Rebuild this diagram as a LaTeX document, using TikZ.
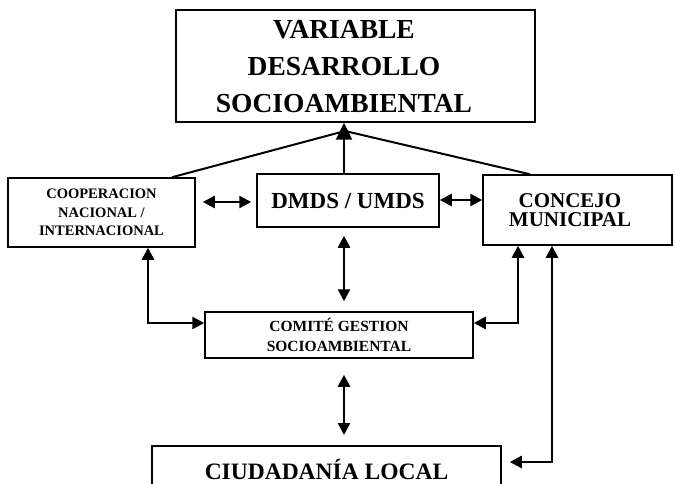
\documentclass[tikz,border=0pt]{standalone}
\usepackage{fontspec}
\setmainfont{Liberation Serif}
\usetikzlibrary{arrows.meta}

\newcommand\boldsize[2]{\fontsize{#1}{#2}\selectfont\bfseries}

\tikzset{
  box/.style={draw, line width=1.5pt, inner sep=0pt, align=center},
  label text/.style={inner sep=0pt, align=center},
  link/.style={line width=2.5pt},
  dbl/.style={link, {Triangle[length=12pt,width=12pt]}-{Triangle[length=12pt,width=12pt]}},
  uparrow/.style={line width=2.5pt, -{Triangle[length=17pt,width=16pt]}},
  slant/.style={line width=2pt},
}

\begin{document}
\begin{tikzpicture}[x=1pt, y=-1pt]
  \useasboundingbox (0,0) rectangle (675,484);
  \clip (0,0) rectangle (675,484);

  % boxes
  \node[box, minimum width=359pt, minimum height=112pt] (top) at (355.5,66) {};
  \node[label text, font=\boldsize{27.5}{37}] (toptext) at (344,67)
    {VARIABLE\\DESARROLLO\\SOCIOAMBIENTAL};
  \node[box, minimum width=187pt, minimum height=69pt, font=\boldsize{14.5}{18.5}]
    (coop) at (101.5,212.5) {COOPERACION\\NACIONAL /\\INTERNACIONAL};
  \node[box, minimum width=182pt, minimum height=53pt, font=\boldsize{23}{26}]
    (dmds) at (348,200.5) {DMDS / UMDS};
  \node[box, minimum width=189pt, minimum height=70pt] (concejo) at (577.5,210) {};
  \node[label text, font=\boldsize{21}{19}] (concejotext) at (570,210)
    {CONCEJO\\MUNICIPAL};
  \node[box, minimum width=268pt, minimum height=46pt, font=\boldsize{15.5}{20}]
    (comite) at (339,335) {COMITÉ GESTION\\SOCIOAMBIENTAL};
  \node[box, anchor=north, minimum width=349pt, inner ysep=18pt,
        text height=16pt, text depth=22pt, font=\boldsize{23.5}{26}]
    (ciud) at (326.5,445) {CIUDADANÍA LOCAL};

  % reference points for the connectors
  \coordinate (midx) at (344,0);
  \coordinate (apex) at (345,131);
  \coordinate (sl) at (172,0);
  \coordinate (sr) at (530,0);
  \coordinate (lx) at (148,323);
  \coordinate (rx) at (518,323);
  \coordinate (fx) at (552,462);
  \coordinate (ya) at (0,202);
  \coordinate (yb) at (0,200);

  % lines up to the top box
  \draw[slant] (sl |- coop.north) -- (apex);
  \draw[slant] (sr |- concejo.north) -- (apex);
  \draw[uparrow] (midx |- dmds.north) -- (midx |- top.south);

  % two-way links
  \draw[dbl, shorten <=7pt, shorten >=5pt] (coop.east |- ya) -- (dmds.west |- ya);
  \draw[dbl] (dmds.east |- yb) -- (concejo.west |- yb);
  \draw[dbl, shorten <=8pt, shorten >=10pt] (midx |- dmds.south) -- (midx |- comite.north);
  \draw[dbl, shorten <=16pt, shorten >=10pt] (midx |- comite.south) -- (midx |- ciud.north);
  \draw[dbl] (lx |- coop.south) -- (lx) -- (comite.west |- lx);
  \draw[dbl] (rx |- concejo.south) -- (rx) -- (comite.east |- rx);
  \draw[dbl, shorten >=8pt] (fx |- concejo.south) -- (fx) -- (ciud.east |- fx);
\end{tikzpicture}
\end{document}
